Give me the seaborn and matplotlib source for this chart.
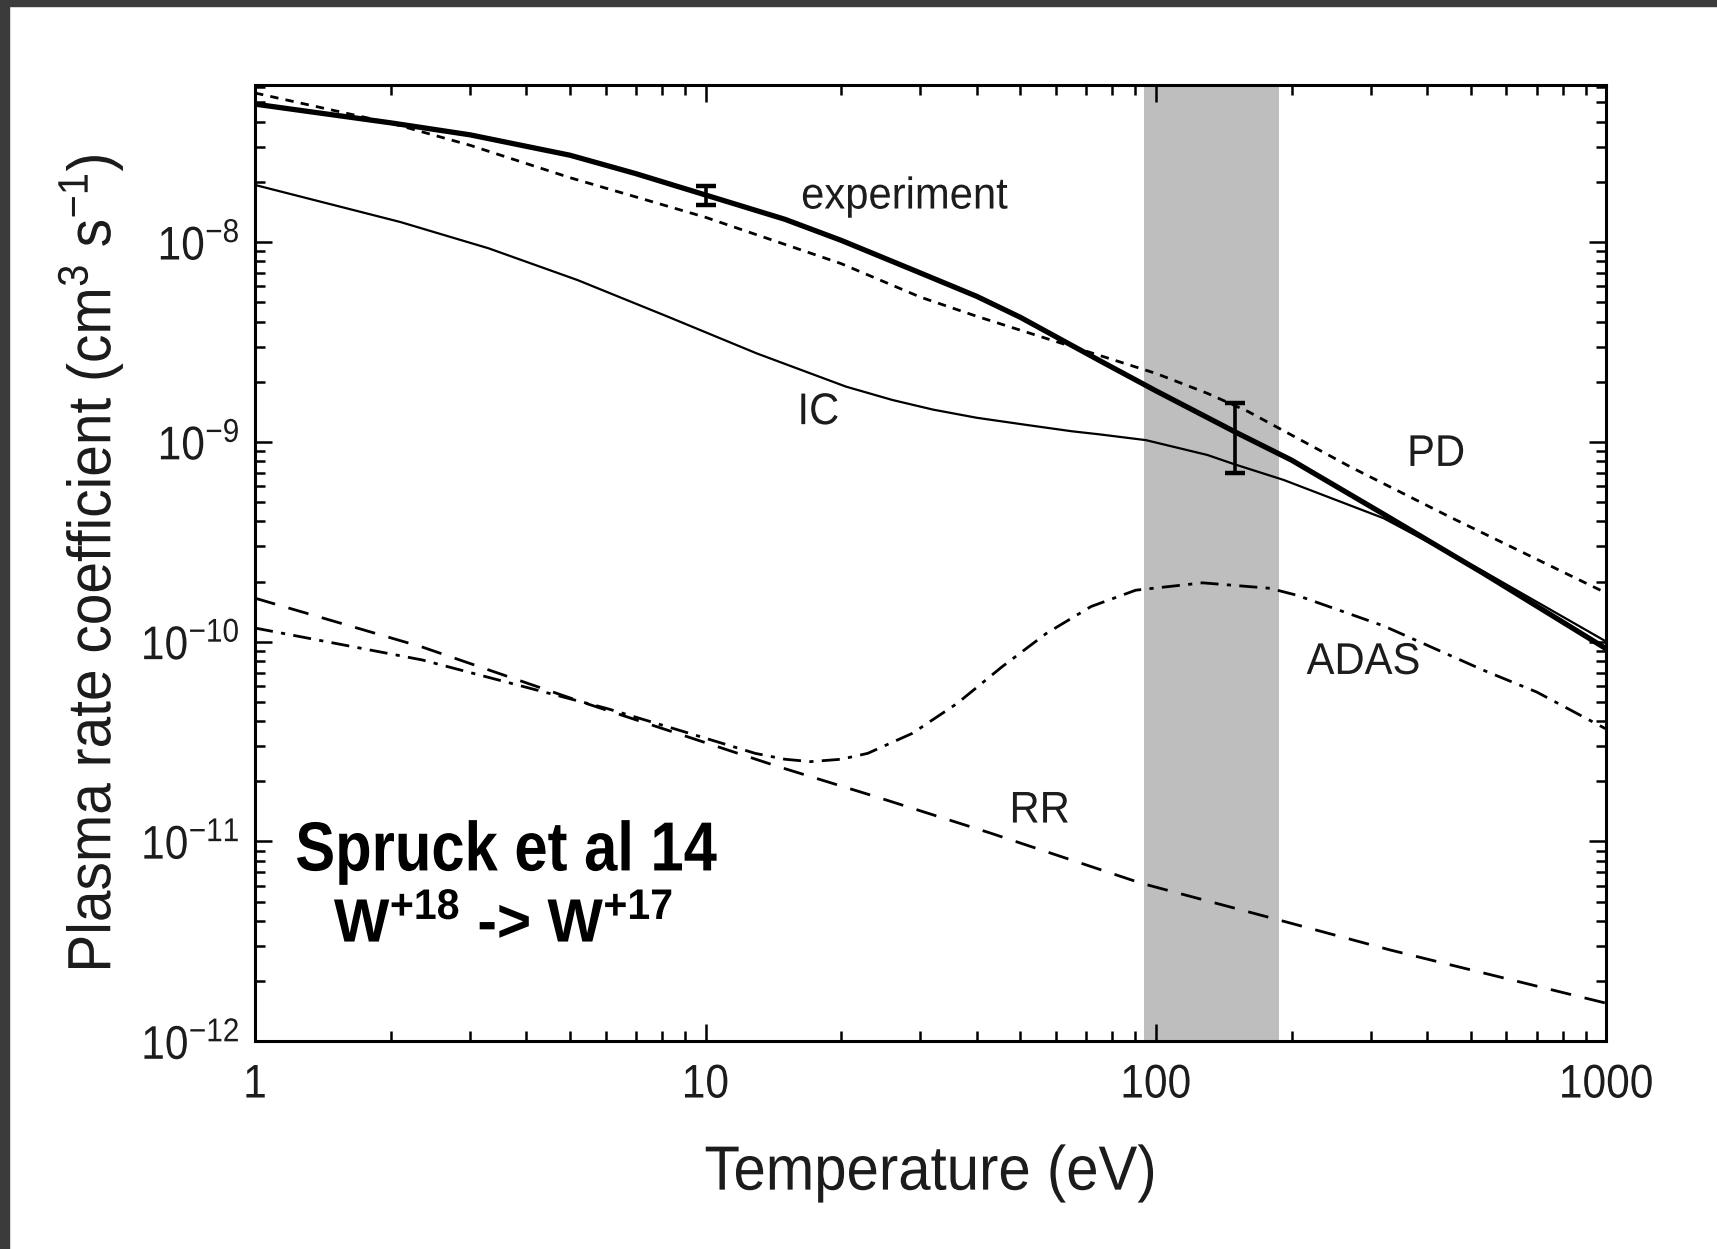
import numpy as np
import pandas as pd
import matplotlib
matplotlib.use("Agg")
import matplotlib.pyplot as plt
import seaborn as sns
from matplotlib.patches import Rectangle
from matplotlib.patheffects import AbstractPathEffect
from matplotlib.transforms import Affine2D
from matplotlib.ticker import LogLocator, LogFormatterSciNotation, NullFormatter, FuncFormatter

# ---- data (temperature in eV, rate in cm^3 s^-1) ----
exp_T = [1, 2, 3, 5, 7, 10, 15, 20, 30, 40, 50, 75, 100, 150, 200, 320, 533, 1000]
exp_R = [4.9e-8, 3.95e-8, 3.44e-8, 2.72e-8, 2.2e-8, 1.72e-8, 1.3e-8, 1.02e-8, 7.0e-9,
         5.35e-9, 4.2e-9, 2.55e-9, 1.8e-9, 1.12e-9, 8.1e-10, 4.35e-10, 2.2e-10, 9.2e-11]

ic_T = [1, 2.1, 3.3, 5.2, 8.25, 13, 20.5, 26, 32, 40, 51, 65, 75, 95, 130, 150, 192,
        320, 533, 1000]
ic_R = [1.93e-8, 1.26e-8, 9.3e-9, 6.45e-9, 4.23e-9, 2.77e-9, 1.89e-9, 1.62e-9, 1.45e-9,
        1.32e-9, 1.22e-9, 1.13e-9, 1.09e-9, 1.02e-9, 8.6e-10, 7.7e-10, 6.45e-10,
        4.15e-10, 2.25e-10, 1.0e-10]

pd_T = [1, 2, 3, 5, 10, 20, 30, 40, 65, 100, 130, 160, 270, 450, 1000]
pd_R = [5.57e-8, 3.94e-8, 3.05e-8, 2.1e-8, 1.33e-8, 7.8e-9, 5.3e-9, 4.25e-9, 3.0e-9,
        2.2e-9, 1.75e-9, 1.42e-9, 7.5e-10, 4.2e-10, 1.75e-10]

adas_T = [1, 2.35, 6.04, 9.2, 12.9, 15, 17.1, 20, 22.9, 28.8, 36.2, 45.5, 57.1, 71.8,
          90.2, 127, 179, 205, 320, 533, 700, 1000]
adas_R = [1.17e-10, 8.1e-11, 4.63e-11, 3.48e-11, 2.76e-11, 2.58e-11, 2.51e-11, 2.58e-11,
          2.76e-11, 3.48e-11, 4.91e-11, 7.48e-11, 1.10e-10, 1.50e-10, 1.81e-10, 1.97e-10,
          1.85e-10, 1.71e-10, 1.2e-10, 7.2e-11, 5.6e-11, 3.65e-11]

rr_T = [1, 2.35, 5.4, 14.5, 24, 43, 93, 188, 332, 1000]
rr_R = [1.65e-10, 9.4e-11, 4.93e-11, 2.37e-11, 1.67e-11, 1.1e-11, 6.17e-12,
        4.04e-12, 2.86e-12, 1.55e-12]

err_T = [10, 150]
err_R = [1.71e-8, 1.09e-9]
err_lo = [1.53e-8, 6.98e-10]
err_hi = [1.90e-8, 1.57e-9]

band = [94, 188]

labels = ["experiment", "IC", "PD", "ADAS", "RR"]
label_T = [16.3, 16.0, 361, 216, 47.3]
label_R = [1.68e-8, 1.40e-9, 8.65e-10, 7.87e-11, 1.42e-11]


class Squeeze(AbstractPathEffect):
    """Draw text glyphs narrower along the text direction."""
    def __init__(self, sx=0.9, align=0.0):
        super().__init__()
        self.sx = sx
        self.align = align

    def draw_path(self, renderer, gc, tpath, affine, rgbFace=None):
        ext = tpath.get_extents()
        w = ext.x1
        shift = self.align * (1 - self.sx) * w
        pre = Affine2D().scale(self.sx, 1.0).translate(shift, 0)
        renderer.draw_path(gc, tpath, pre + affine, rgbFace)


# ---- styling ----
sns.set_theme(style="ticks")
base = "Liberation Sans"
plt.rcParams["font.family"] = [base, "DejaVu Sans"]
plt.rcParams["mathtext.fontset"] = "custom"
plt.rcParams["mathtext.rm"] = base
plt.rcParams["mathtext.bf"] = base + ":bold"
plt.rcParams["mathtext.it"] = base + ":italic"

TXT = "#1c1c1c"

fig = plt.figure(figsize=(17.17, 12.49), dpi=100)
fig.patch.set_facecolor("white")
fig.patches.append(Rectangle((0, 0), 9 / 1717, 1, transform=fig.transFigure,
                             color="#3b3b3b", zorder=0))
fig.patches.append(Rectangle((0, 1 - 6 / 1249), 1, 6 / 1249, transform=fig.transFigure,
                             color="#3b3b3b", zorder=0))

ax = fig.add_axes([0.14857, 0.16629, 0.78701, 0.76533])
ax.set_xscale("log")
ax.set_yscale("log")
ax.set_xlim(1, 1000)
ax.set_ylim(1e-12, 6.08e-8)

ax.axvspan(band[0], band[1], color="#bebebe", lw=0, zorder=0)

sns.lineplot(x=pd_T, y=pd_R, ax=ax, color="black", lw=2.0,
             linestyle=(0, (3.0, 2.6)), zorder=3)
sns.lineplot(x=ic_T, y=ic_R, ax=ax, color="black", lw=1.6, zorder=3)
sns.lineplot(x=exp_T, y=exp_R, ax=ax, color="black", lw=3.8, zorder=4)
sns.lineplot(x=adas_T, y=adas_R, ax=ax, color="black", lw=2.0,
             linestyle=(0, (6.5, 3.0, 1.5, 3.0)), zorder=3)
sns.lineplot(x=rr_T, y=rr_R, ax=ax, color="black", lw=2.0,
             linestyle=(0, (7.5, 5.0)), zorder=3)

yerr = [np.array(err_R) - np.array(err_lo), np.array(err_hi) - np.array(err_R)]
ax.errorbar(err_T, err_R, yerr=yerr, fmt="none", ecolor="black",
            elinewidth=2.6, capsize=7.5, capthick=3.2, zorder=5)

for lab, tx, ty in zip(labels, label_T, label_R):
    t = ax.text(tx, ty, lab, fontsize=32, ha="left", va="center", color=TXT)
    t.set_path_effects([Squeeze(0.94, 0.0)])

# axes cosmetics
for s in ax.spines.values():
    s.set_linewidth(2.2)
    s.set_color("black")
ax.xaxis.set_major_locator(LogLocator(base=10, numticks=10))
ax.xaxis.set_minor_locator(LogLocator(base=10, subs=np.arange(2, 10), numticks=20))
ax.yaxis.set_major_locator(LogLocator(base=10, numticks=10))
ax.yaxis.set_minor_locator(LogLocator(base=10, subs=np.arange(2, 10), numticks=20))
ax.xaxis.set_major_formatter(FuncFormatter(lambda v, p: f"{v:g}"))
ax.yaxis.set_major_formatter(LogFormatterSciNotation())
ax.xaxis.set_minor_formatter(NullFormatter())
ax.yaxis.set_minor_formatter(NullFormatter())
ax.tick_params(which="both", direction="in", top=True, right=True,
               color="black", width=1.8, labelsize=34, labelcolor=TXT)
ax.tick_params(which="major", length=12)
ax.tick_params(which="minor", length=7)
ax.tick_params(axis="x", which="major", pad=16)
ax.tick_params(axis="y", which="major", pad=11)

xl = ax.set_xlabel("Temperature (eV)", fontsize=45, color=TXT, labelpad=26)
xl.set_path_effects([Squeeze(0.93, 0.5)])
yl = ax.set_ylabel(r"Plasma rate coefficient (cm$^{\mathdefault{3}}$ s$^{\mathdefault{-1}}$)",
                   fontsize=44, color=TXT)
yl.set_path_effects([Squeeze(0.93, 0.5)])
ax.yaxis.set_label_coords(-0.096, 0.5)

t1 = fig.text(0.172, 0.3175, "Spruck et al 14", fontsize=50, fontweight="bold",
              ha="left", va="center", color="black")
t1.set_path_effects([Squeeze(0.86, 0.0)])
t2 = fig.text(0.1945, 0.2585, r"W$^{\mathbf{+18}}$ -> W$^{\mathbf{+17}}$", fontsize=44,
              fontweight="bold", ha="left", va="center", color="black")
t2.set_path_effects([Squeeze(0.96, 0.0)])

fig.canvas.draw()
for tk in ax.xaxis.get_major_ticks():
    tk.label1.set_path_effects([Squeeze(0.9, 0.5)])
for tk in ax.yaxis.get_major_ticks():
    tk.label1.set_path_effects([Squeeze(0.9, 1.0)])

fig.savefig("out.png", dpi=100, facecolor="white")
